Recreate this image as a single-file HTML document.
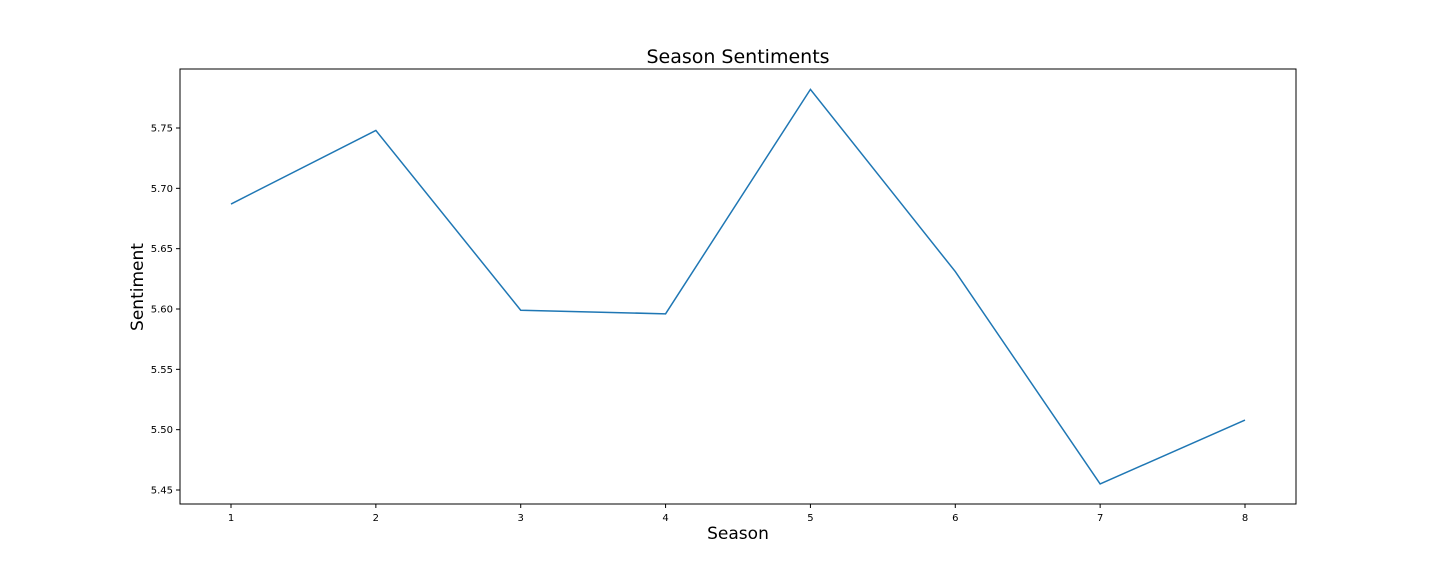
<!DOCTYPE html>
<html><head><meta charset="utf-8"><style>
body{margin:0;background:#fff;font-family:"Liberation Sans","DejaVu Sans",sans-serif}
svg text{font-family:"DejaVu Sans","Liberation Sans",sans-serif}
</style></head><body>
<svg id="chart" width="1440" height="576"></svg>
<script>
const seasons=[1,2,3,4,5,6,7,8];
const sentiment=[5.687,5.748,5.599,5.596,5.782,5.631,5.455,5.508];
const yTicks=[5.45,5.50,5.55,5.60,5.65,5.70,5.75];
const yTickLabels=["5.45","5.50","5.55","5.60","5.65","5.70","5.75"];
const NS="http://www.w3.org/2000/svg";
const svg=document.getElementById('chart');
const L=180,R=1296,T=69,B=504;
const xs=v=>231+(v-1)*(1245-231)/7;
const ys=v=>490-(v-5.45)*(490-128)/0.30;
function mk(tag,attrs,txt){const e=document.createElementNS(NS,tag);for(const k in attrs)e.setAttribute(k,attrs[k]);if(txt!==undefined)e.textContent=txt;svg.appendChild(e);return e;}
let e=mk('rect',{x:L,y:T,width:R-L,height:B-T,fill:'none',stroke:'#000','stroke-width':1});


seasons.forEach(s=>{
 const x=xs(s);
 let t=mk('line',{x1:x,x2:x,y1:B,y2:B+4,stroke:'#000'});
 
 
 let l=mk('text',{x:x,y:B+17,'text-anchor':'middle','font-size':10},String(s));
 
 
});
yTicks.forEach((v,i)=>{
 const y=ys(v);
 let t=mk('line',{x1:L-4,x2:L,y1:y,y2:y,stroke:'#000'});
 
 
 let l=mk('text',{x:L-7,y:y+3.5,'text-anchor':'end','font-size':10},yTickLabels[i]);
 
 
});
const pts=seasons.map((s,i)=>xs(s)+','+ys(sentiment[i])).join(' ');
let p=mk('polyline',{points:pts,fill:'none',stroke:'#1f77b4','stroke-width':1.5});


let tt=mk('text',{x:738,y:63,'text-anchor':'middle','font-size':19},'Season Sentiments');


let xt=mk('text',{x:738,y:539,'text-anchor':'middle','font-size':17},'Season');


let yt=mk('text',{x:143,y:287,'text-anchor':'middle','font-size':17,transform:'rotate(-90 143 287)'},'Sentiment');


</script>
</body></html>
